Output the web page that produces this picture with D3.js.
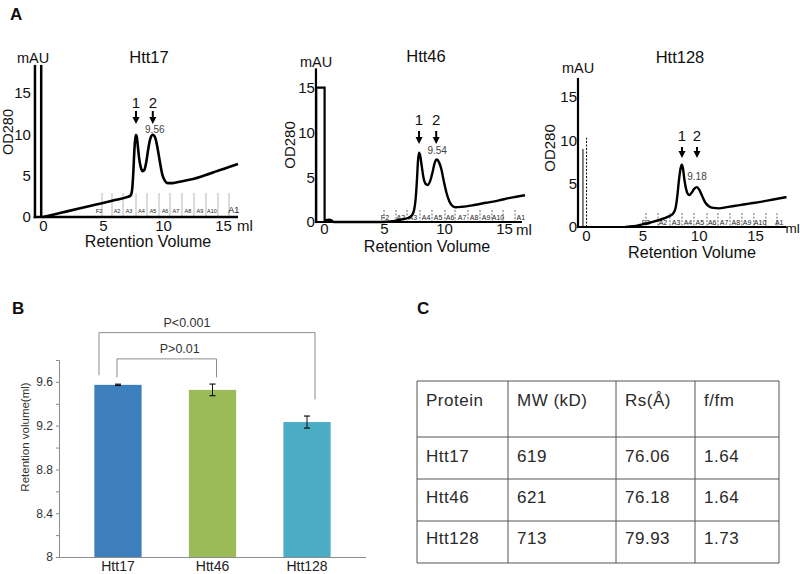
<!DOCTYPE html>
<html><head><meta charset="utf-8">
<script src="https://cdn.jsdelivr.net/npm/d3@7"></script>
<style>
body{margin:0;background:#fff}
svg{display:block}
text{font-family:"Liberation Sans",Arial,Helvetica,sans-serif}
</style>
</head><body>
<svg id="fig" width="800" height="574"></svg>
<script>
// ---------------- DATA ----------------
// Panel A: SEC chromatograms, [retention volume (ml), OD280 (mAU)]
const htt17Trace = [[0,0],[1,0.34],[2,0.68],[3,1.02],[4,1.36],[5,1.7],[6,2.05],[7,2.4],[7.3,2.6],[7.42,3.2],[7.52,5.2],[7.62,8.2],[7.72,9.9],[7.8,9.8],[7.9,8.6],[8.02,7.0],[8.15,6.0],[8.3,5.55],[8.45,5.7],[8.6,6.6],[8.78,8.3],[8.95,9.5],[9.15,9.95],[9.35,9.6],[9.55,8.3],[9.75,6.6],[9.95,5.1],[10.15,4.4],[10.4,4.1],[10.8,4.1],[11.5,4.3],[12.5,4.6],[13.5,5.05],[14.5,5.55],[15.5,6.05],[16.25,6.4]];
const htt17Injection = [[-0.15,18.4],[-0.15,0]];
const htt46Trace = [[0.05,0],[0.15,0.2],[0.4,0.25],[0.65,0.15],[0.8,0],[5,0],[5.5,0.05],[6,0.15],[6.5,0.3],[7,0.45],[7.3,0.7],[7.5,1.3],[7.65,2.8],[7.75,4.8],[7.83,6.8],[7.92,7.75],[8.02,7.4],[8.15,6.2],[8.3,4.9],[8.45,4.3],[8.65,4.15],[8.85,4.6],[9.05,5.6],[9.22,6.6],[9.4,7.0],[9.58,6.7],[9.78,5.9],[9.98,4.6],[10.2,3.3],[10.45,2.3],[10.7,1.8],[10.95,1.65],[11.5,1.7],[12.5,1.9],[13.5,2.15],[14.5,2.4],[15.5,2.7],[16.75,3.0]];
const htt46Injection = [[-0.65,0],[-0.65,15.05],[0.05,15.05],[0.05,0]];
const htt128Trace = [[3.5,0],[4.2,0.08],[5,0.3],[5.8,0.55],[6.6,0.85],[7.3,1.2],[7.7,1.5],[7.95,2.2],[8.1,3.5],[8.25,5.4],[8.4,6.8],[8.5,7.2],[8.6,6.8],[8.72,5.6],[8.88,4.4],[9.05,3.8],[9.2,3.7],[9.4,4.0],[9.6,4.4],[9.85,4.6],[10.05,4.3],[10.3,3.6],[10.6,2.8],[10.9,2.4],[11.3,2.2],[11.8,2.15],[12.5,2.3],[13.5,2.5],[14.5,2.7],[15.5,2.9],[16.5,3.15],[17.8,3.45]];
const htt128InjectionSolid = [[-0.27,0],[-0.27,9.0]];
const htt128InjectionDashed = [[0.05,0],[0.05,10.3]];

const chromTitles = ["Htt17","Htt46","Htt128"];
const chromTicks = [0,5,10,15];
const peakNames = ["1","2"];
const htt17Peaks = [7.75, 9.15];
const htt46Peaks = [7.92, 9.35];
const htt128Peaks = [8.52, 9.85];
const peak2Labels = ["9.56","9.54","9.18"];

const fractionNames = ["F2","A2","A3","A4","A5","A6","A7","A8","A9","A10","A1"];
const htt17FracLines = [4.92,5.75,6.67,7.75,8.67,9.67,10.58,11.58,12.58,13.58,14.58,15.5];
const htt17FracLabels = [4.67,6.17,7.17,8.2,9.17,10.17,11.08,12.08,13.08,14.08,15.9];
const htt46FracLines = [5.0,6.0,6.92,8.0,9.0,10.08,10.92,12.0,13.0,14.0,14.92,15.92];
const htt46FracLabels = [5.08,6.4,7.4,8.5,9.5,10.5,11.5,12.5,13.5,14.5,16.4];
const htt128FracLines = [5.32,6.39,7.45,8.52,9.58,10.74,11.71,12.78,13.84,14.9,15.97,16.95];
const htt128FracLabels = [5.32,6.83,8.0,9.05,10.1,11.2,12.25,13.3,14.3,15.45,17.15];

// Panel B: retention volume of peak 2
const barCats = ["Htt17","Htt46","Htt128"];
const barMeans = [9.573, 9.527, 9.233];
const barErrs = [0.006, 0.053, 0.055];
const barColors = ["#3d7fbd","#9bbb59","#4bacc6"];
const barTicks = [8,8.2,8.4,8.6,8.8,9.0,9.2,9.4,9.6,9.8];
const barTickLabels = ["8","","8.4","","8.8","","9.2","","9.6",""];
const sigLabels = ["P<0.001","P>0.01"];
const sigLevels = [10.05, 9.81];          // y value of bracket bars
const sigLegs = [[9.66,9.44],[9.64,9.64]]; // y value of bracket leg ends

// Panel C: table
const tableHeader = ["Protein","MW (kD)","Rs(Å)","f/fm"];
const tableProteins = ["Htt17","Htt46","Htt128"];
const tableMW = ["619","621","713"];
const tableRs = ["76.06","76.18","79.93"];
const tableFfm = ["1.64","1.64","1.73"];

// ---------------- DRAW ----------------
const svg = d3.select("#fig");
svg.append("rect").attr("width",800).attr("height",574).attr("fill","#fff");

function panelLetter(t,x,y){
  svg.append("text").attr("x",x).attr("y",y).attr("font-size",17).attr("font-weight","bold").attr("fill","#111").text(t);
}
panelLetter("A",10,20);
panelLetter("B",12,314);
panelLetter("C",417,314);

function drawChrom(cfg){
  const g = svg.append("g");
  const x = d3.scaleLinear().domain([0,15]).range(cfg.xr);
  const y = d3.scaleLinear().domain([0,15]).range(cfg.yr);

  // fraction markers
  g.selectAll(null).data(cfg.fracLines).join("line")
    .attr("x1",d=>x(d)).attr("x2",d=>x(d))
    .attr("y1",y(cfg.fracTop)).attr("y2",y(0))
    .attr("stroke",cfg.fracColor).attr("stroke-width",cfg.fracWidth)
    .attr("stroke-dasharray",cfg.fracDash);
  g.selectAll(null).data(fractionNames).join("text")
    .attr("x",(d,i)=>x(cfg.fracLabels[i])).attr("y",cfg.fracLabelY)
    .attr("text-anchor","middle")
    .attr("font-size",(d,i)=> (i===10 ? cfg.a1Size : cfg.fracSize))
    .attr("fill","#222").text(d=>d);

  // injection
  cfg.injections.forEach(inj=>{
    g.append("path").datum(inj.data)
      .attr("d",d3.line().x(d=>x(d[0])).y(d=>y(d[1])))
      .attr("fill","none").attr("stroke","#000")
      .attr("stroke-width",inj.w).attr("stroke-dasharray",inj.dash||null);
  });

  // axes lines
  g.append("line").attr("x1",x(cfg.axisX)).attr("x2",x(cfg.axisX))
    .attr("y1",y(cfg.axisTop)).attr("y2",y(0)+cfg.axisW/2)
    .attr("stroke","#000").attr("stroke-width",cfg.axisW);
  g.append("line").attr("x1",x(cfg.axisX)-cfg.axisW/2).attr("x2",x(cfg.axisEnd))
    .attr("y1",y(0)).attr("y2",y(0))
    .attr("stroke","#000").attr("stroke-width",cfg.axisW);

  // trace
  g.append("path").datum(cfg.trace)
    .attr("d",d3.line().x(d=>x(d[0])).y(d=>y(d[1])).curve(d3.curveMonotoneX))
    .attr("fill","none").attr("stroke","#000").attr("stroke-width",cfg.lineW)
    .attr("stroke-linejoin","round");

  // tick labels via axes
  const ya = g.append("g").attr("transform",`translate(${x(cfg.axisX)},0)`)
    .call(d3.axisLeft(y).tickValues(chromTicks).tickSize(0).tickPadding(cfg.yPad));
  ya.select(".domain").remove();
  ya.selectAll("text").attr("font-size",cfg.tickSize).attr("fill","#111")
    .style("font-family","'Liberation Sans',Arial,sans-serif");
  const xa = g.append("g").attr("transform",`translate(0,${y(0)})`)
    .call(d3.axisBottom(x).tickValues(chromTicks).tickSize(0).tickPadding(cfg.xPad));
  xa.select(".domain").remove();
  xa.selectAll("text").attr("font-size",cfg.tickSize).attr("fill","#111")
    .style("font-family","'Liberation Sans',Arial,sans-serif");

  // labels
  g.append("text").attr("x",cfg.mlX).attr("y",cfg.mlY).attr("font-size",cfg.mlSize).attr("fill","#111").text("ml");
  g.append("text").attr("x",cfg.xlabX).attr("y",cfg.xlabY).attr("text-anchor","middle")
    .attr("font-size",cfg.xlabSize).attr("fill","#111").text("Retention Volume");
  g.append("text").attr("transform",`translate(${cfg.odX},${cfg.odY}) rotate(-90)`)
    .attr("text-anchor","middle").attr("font-size",cfg.odSize).attr("fill","#111").text("OD280");
  g.append("text").attr("x",cfg.mauX).attr("y",cfg.mauY).attr("font-size",14.5).attr("fill","#111").text("mAU");
  g.append("text").attr("x",cfg.titleX).attr("y",cfg.titleY).attr("text-anchor","middle")
    .attr("font-size",16.5).attr("fill","#111").text(cfg.title);

  // peak arrows
  g.selectAll(null).data(cfg.peaks).join("text")
    .attr("x",d=>x(d)).attr("y",cfg.numY).attr("text-anchor","middle")
    .attr("font-size",15).attr("fill","#111").text((d,i)=>peakNames[i]);
  g.selectAll(null).data(cfg.peaks).join("line")
    .attr("x1",d=>x(d)).attr("x2",d=>x(d)).attr("y1",cfg.arrowTop).attr("y2",cfg.arrowBot-5)
    .attr("stroke","#000").attr("stroke-width",2);
  g.selectAll(null).data(cfg.peaks).join("path")
    .attr("d",d=>`M${x(d)-3.5},${cfg.arrowBot-7}L${x(d)+3.5},${cfg.arrowBot-7}L${x(d)},${cfg.arrowBot}Z`)
    .attr("fill","#000");
  g.append("text").attr("x",x(cfg.peaks[1])+cfg.valDx).attr("y",cfg.valY).attr("text-anchor","middle")
    .attr("font-size",10).attr("fill","#444").text(cfg.valLabel);
}

drawChrom({
  title:chromTitles[0], trace:htt17Trace,
  injections:[{data:htt17Injection,w:2.5}],
  xr:[43,223], yr:[217,93], axisX:-0.67, axisTop:18.4, axisEnd:16.25, axisW:2.5, lineW:2.6,
  fracLines:htt17FracLines, fracLabels:htt17FracLabels, fracTop:2.9, fracColor:"#999", fracWidth:0.7, fracDash:null,
  fracLabelY:213, fracSize:5.5, a1Size:9,
  yPad:4, xPad:3, tickSize:15, mlX:237, mlY:231, mlSize:15, xlabX:148, xlabY:247, xlabSize:16,
  odX:13, odY:132, odSize:14.5, mauX:17, mauY:63, titleX:149, titleY:63,
  peaks:htt17Peaks, numY:108, arrowTop:111, arrowBot:124, valDx:2, valY:133, valLabel:peak2Labels[0]
});
drawChrom({
  title:chromTitles[1], trace:htt46Trace,
  injections:[{data:htt46Injection,w:2.2}],
  xr:[324,504], yr:[222,88], axisX:-0.67, axisTop:17.2, axisEnd:16.5, axisW:2.2, lineW:2.4,
  fracLines:htt46FracLines, fracLabels:htt46FracLabels, fracTop:1.35, fracColor:"#444", fracWidth:0.8, fracDash:"2,1.5",
  fracLabelY:220, fracSize:7, a1Size:7,
  yPad:1, xPad:1.4, tickSize:15, mlX:516, mlY:235, mlSize:15, xlabX:427, xlabY:251.5, xlabSize:16,
  odX:295, odY:145, odSize:15, mauX:300, mauY:67, titleX:426, titleY:62,
  peaks:htt46Peaks, numY:125, arrowTop:131, arrowBot:144, valDx:1, valY:154, valLabel:peak2Labels[1]
});
drawChrom({
  title:chromTitles[2], trace:htt128Trace,
  injections:[{data:htt128InjectionSolid,w:1},{data:htt128InjectionDashed,w:1,dash:"2,1.5"}],
  xr:[586,755], yr:[227,97], axisX:-0.71, axisTop:17.2, axisEnd:17.8, axisW:2.2, lineW:2.4,
  fracLines:htt128FracLines, fracLabels:htt128FracLabels, fracTop:1.6, fracColor:"#444", fracWidth:0.8, fracDash:"2,1.5",
  fracLabelY:225, fracSize:7, a1Size:7,
  yPad:1, xPad:3, tickSize:15, mlX:785.5, mlY:233, mlSize:13.5, xlabX:692, xlabY:258, xlabSize:16.2,
  odX:555, odY:148, odSize:15, mauX:562, mauY:73, titleX:680, titleY:63,
  peaks:htt128Peaks, numY:141, arrowTop:147, arrowBot:158, valDx:0, valY:180, valLabel:peak2Labels[2]
});

// ---------------- Panel B ----------------
(function(){
  const g = svg.append("g");
  const y = d3.scaleLinear().domain([8,9.8]).range([557,360]);
  const x = d3.scaleBand().domain(barCats).range([59,366]).paddingInner(0.5).paddingOuter(0.374);
  const gray = "#8c8c8c";

  const ya = g.append("g").attr("transform","translate(59,0)")
    .call(d3.axisLeft(y).tickValues(barTicks).tickSize(3).tickPadding(3)
      .tickFormat((d,i)=>barTickLabels[i]));
  ya.select(".domain").attr("stroke",gray);
  ya.selectAll(".tick line").attr("stroke",gray);
  ya.selectAll("text").attr("font-size",12).attr("fill","#333")
    .style("font-family","'Liberation Sans',Arial,sans-serif");

  g.selectAll(null).data(barCats).join("rect")
    .attr("x",d=>x(d)).attr("width",x.bandwidth())
    .attr("y",(d,i)=>y(barMeans[i])).attr("height",(d,i)=>y(8)-y(barMeans[i]))
    .attr("fill",(d,i)=>barColors[i]);

  const xa = g.append("g").attr("transform","translate(0,557)")
    .call(d3.axisBottom(x).tickSize(0).tickPadding(4));
  xa.select(".domain").attr("stroke",gray).attr("d","M59,0.5H366");
  xa.selectAll("text").attr("font-size",14).attr("fill","#222")
    .style("font-family","'Liberation Sans',Arial,sans-serif");

  // error bars
  barCats.forEach((c,i)=>{
    const cx = x(c)+x.bandwidth()/2;
    const t = y(barMeans[i]+barErrs[i]), b = y(barMeans[i]-barErrs[i]);
    g.append("line").attr("x1",cx).attr("x2",cx).attr("y1",t).attr("y2",b).attr("stroke","#111").attr("stroke-width",1);
    g.append("line").attr("x1",cx-3).attr("x2",cx+3).attr("y1",t).attr("y2",t).attr("stroke","#111").attr("stroke-width",1.2);
    g.append("line").attr("x1",cx-3).attr("x2",cx+3).attr("y1",b).attr("y2",b).attr("stroke","#111").attr("stroke-width",1.2);
  });

  g.append("text").attr("transform","translate(29,437) rotate(-90)").attr("text-anchor","middle")
    .attr("font-size",11.5).attr("fill","#333").text("Retention volume(ml)");

  // significance brackets
  const cx = c => x(c)+x.bandwidth()/2;
  const br = [
    {x1:cx(barCats[0])-19, x2:cx(barCats[2])+8},
    {x1:cx(barCats[0])-1, x2:cx(barCats[1])+4}
  ];
  br.forEach((b,i)=>{
    const yl = y(sigLevels[i]);
    g.append("path")
      .attr("d",`M${b.x1},${y(sigLegs[i][0])}V${yl}H${b.x2}V${y(sigLegs[i][1])}`)
      .attr("fill","none").attr("stroke",gray).attr("stroke-width",1);
    g.append("text").attr("x",(b.x1+b.x2)/2 + (i===0?-20:13)).attr("y",yl-6).attr("text-anchor","middle")
      .attr("font-size",12.5).attr("fill","#333").text(sigLabels[i]);
  });
})();

// ---------------- Panel C ----------------
(function(){
  const g = svg.append("g");
  const colX = [417,508,616,695,779];
  const rowY = [381,437,479,521,563];
  const lc = "#555";
  rowY.forEach(yv=>g.append("line").attr("x1",colX[0]).attr("x2",colX[4]).attr("y1",yv).attr("y2",yv).attr("stroke",lc).attr("stroke-width",1));
  colX.forEach(xv=>g.append("line").attr("x1",xv).attr("x2",xv).attr("y1",rowY[0]).attr("y2",rowY[4]).attr("stroke",lc).attr("stroke-width",1));
  const rows = [tableHeader].concat(tableProteins.map((p,i)=>[p,tableMW[i],tableRs[i],tableFfm[i]]));
  const base = [406,462,503,544];
  rows.forEach((r,ri)=>{
    r.forEach((t,ci)=>{
      g.append("text").attr("x",colX[ci]+9).attr("y",base[ri]).attr("font-size",17)
        .attr("letter-spacing",0.5).attr("fill","#2a2a2a").text(t);
    });
  });
})();
</script>
</body></html>
